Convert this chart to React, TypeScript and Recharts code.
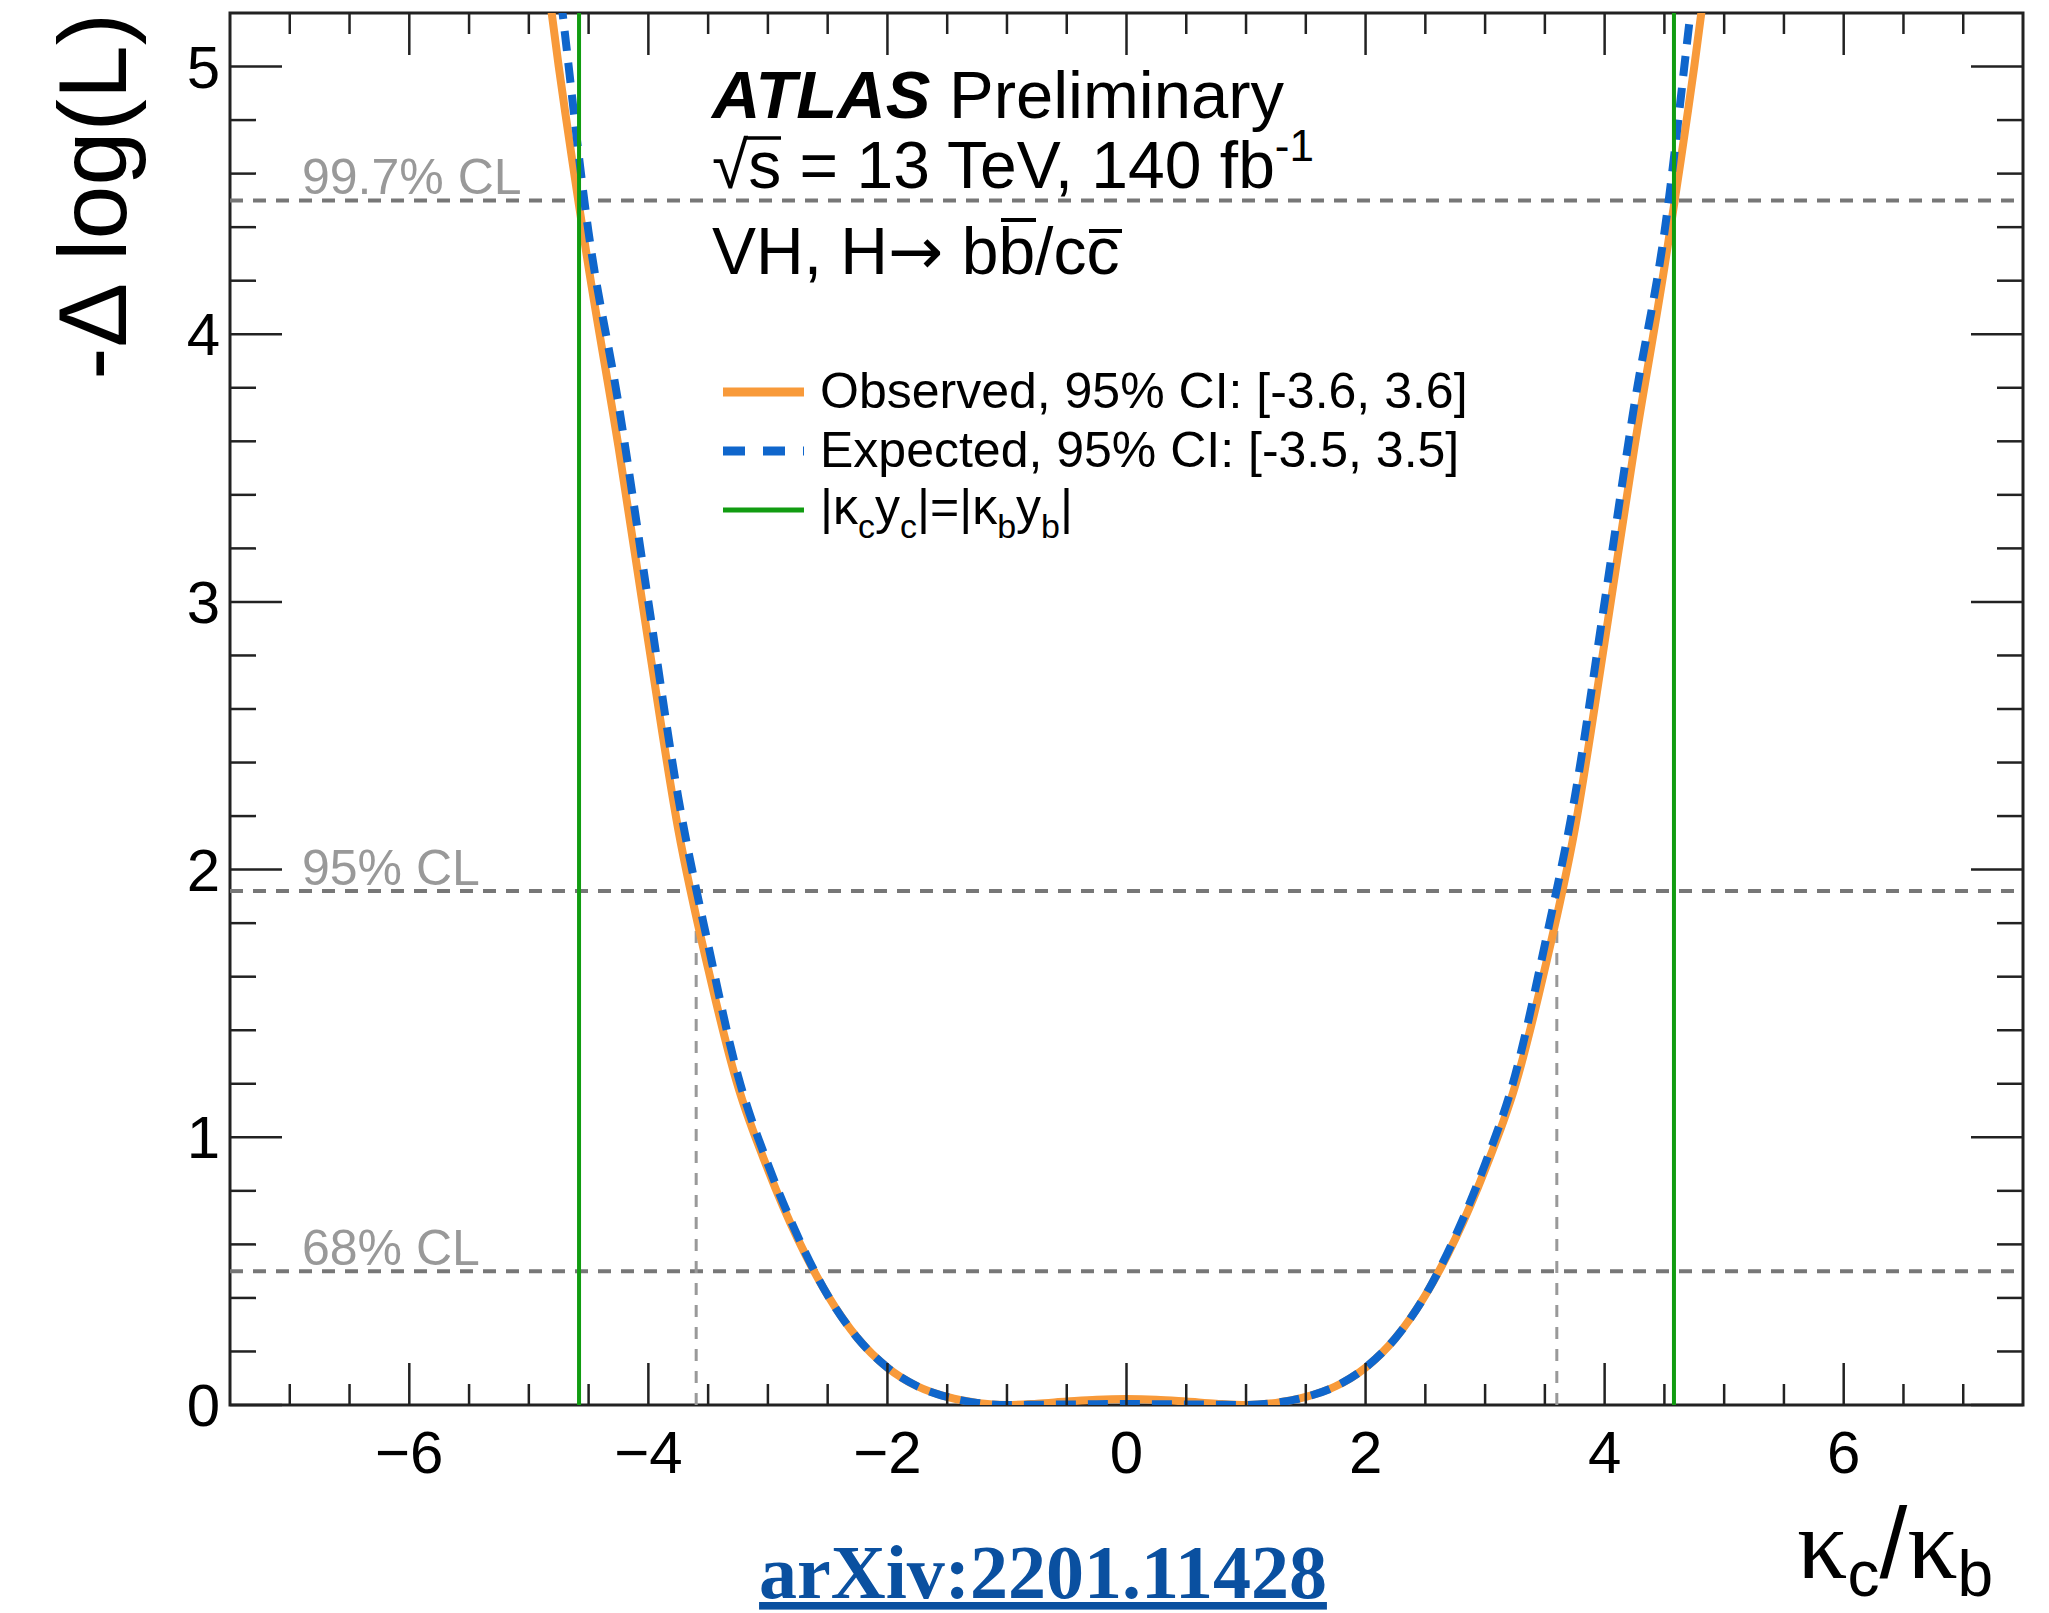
import {
    LineChart,
    Line,
    XAxis,
    YAxis,
    ReferenceLine,
    ReferenceArea,
    Legend,
} from 'recharts'

// kappa_c / kappa_b scan points
const kappaRatio = [
    -5, -4.75, -4.5, -4.25, -4, -3.75, -3.5, -3.25, -3, -2.75, -2.5, -2.25, -2, -1.75, -1.5, -1.25, -1, -0.75, -0.5, -0.25,
    0, 0.25, 0.5, 0.75, 1, 1.25, 1.5, 1.75, 2, 2.25, 2.5, 2.75, 3, 3.25, 3.5, 3.75, 4, 4.25, 4.5, 4.75, 5,
]
// -delta log(L), observed
const observedNll = [
    5.85, 5.0, 4.25, 3.58, 2.85, 2.15, 1.63, 1.19, 0.88, 0.62, 0.41, 0.25, 0.14, 0.07, 0.03, 0.008, 0.0, 0.005, 0.013, 0.02,
    0.022, 0.02, 0.013, 0.005, 0.0, 0.008, 0.03, 0.07, 0.14, 0.25, 0.41, 0.62, 0.88, 1.19, 1.63, 2.15, 2.85, 3.58, 4.25, 5.0, 5.85,
]
// -delta log(L), expected
const expectedNll = [
    6.2, 5.32, 4.38, 3.74, 3.0, 2.27, 1.72, 1.23, 0.9, 0.63, 0.41, 0.25, 0.14, 0.07, 0.03, 0.008, 0.0, 0.001, 0.002, 0.003,
    0.004, 0.003, 0.002, 0.001, 0.0, 0.008, 0.03, 0.07, 0.14, 0.25, 0.41, 0.63, 0.9, 1.23, 1.72, 2.27, 3.0, 3.74, 4.38, 5.32, 6.2,
]

const clLevels = [
    { value: 0.5, label: '68% CL' },
    { value: 1.92, label: '95% CL' },
    { value: 4.5, label: '99.7% CL' },
]
const observedInterval = [-3.6, 3.6]
const yukawaRatio = [-4.58, 4.58]

const xTicks = [
    -7, -6.5, -6, -5.5, -5, -4.5, -4, -3.5, -3, -2.5, -2, -1.5, -1, -0.5, 0, 0.5, 1, 1.5, 2, 2.5, 3, 3.5, 4, 4.5, 5, 5.5, 6, 6.5, 7,
]
const xMajorTicks = [-6, -4, -2, 0, 2, 4, 6]
const yTicks = [
    0, 0.2, 0.4, 0.6, 0.8, 1, 1.2, 1.4, 1.6, 1.8, 2, 2.2, 2.4, 2.6, 2.8, 3, 3.2, 3.4, 3.6, 3.8, 4, 4.2, 4.4, 4.6, 4.8, 5,
]
const yMajorTicks = [0, 1, 2, 3, 4, 5]

const legendItems = [
    { key: 'obs', color: '#f89a3a', dash: undefined, text: 'Observed, 95% CI: [-3.6, 3.6]' },
    { key: 'exp', color: '#0f66cc', dash: '22 18', text: 'Expected, 95% CI: [-3.5, 3.5]' },
    { key: 'yuk', color: '#119c11', dash: undefined, text: '' },
]

const data = kappaRatio.map((k, i) => ({ k, obs: observedNll[i], exp: expectedNll[i] }))

const W = 2049
const H = 1613
const PLOT_W = 1793
const PLOT_H = 1392
const SANS = '"Liberation Sans", Arial, Helvetica, sans-serif'
const SERIF = '"Liberation Serif", "Times New Roman", serif'
const INK = '#222'

const fmt = (v: number) => (v < 0 ? `\u2212${-v}` : `${v}`)

function XTick({ x, y, payload }: any) {
    const v = payload.value
    const major = xMajorTicks.includes(v)
    const len = major ? 42 : 21
    return (
        <g>
            <line x1={x} x2={x} y1={y} y2={y - len} stroke={INK} strokeWidth={2.5} />
            <line x1={x} x2={x} y1={y - PLOT_H} y2={y - PLOT_H + len} stroke={INK} strokeWidth={2.5} />
            {major && (
                <text x={x} y={y + 68} textAnchor="middle" fontSize={60} fill="#000" fontFamily={SANS}>
                    {fmt(v)}
                </text>
            )}
        </g>
    )
}

function YTick({ x, y, payload }: any) {
    const v = payload.value
    const major = yMajorTicks.includes(v)
    const len = major ? 52 : 26
    return (
        <g>
            <line x1={x} x2={x + len} y1={y} y2={y} stroke={INK} strokeWidth={2.5} />
            <line x1={x + PLOT_W} x2={x + PLOT_W - len} y1={y} y2={y} stroke={INK} strokeWidth={2.5} />
            {major && (
                <text x={x - 10} y={y + 21} textAnchor="end" fontSize={60} fill="#000" fontFamily={SANS}>
                    {fmt(v)}
                </text>
            )}
        </g>
    )
}

function CLLabel({ viewBox, text }: any) {
    const vb = viewBox ?? { x: 230, y: 0 }
    return (
        <text x={vb.x + 72} y={vb.y - 6} fill="#999" fontSize={50} fontFamily={SANS}>
            {text}
        </text>
    )
}

function YTitle({ viewBox }: any) {
    const vb = viewBox ?? { x: 0, y: 13 }
    return (
        <text
            transform={`translate(${vb.x + 126},${vb.y}) rotate(-90)`}
            textAnchor="end"
            fontSize={97}
            fill="#000"
            fontFamily={SANS}
        >
            -Δ log(L)
        </text>
    )
}

function XTitle({ viewBox }: any) {
    const vb = viewBox ?? { x: 230, y: 1405, width: PLOT_W }
    return (
        <text x={vb.x + vb.width - 226} y={vb.y + 173} fill="#000" fontSize={100} fontFamily={SANS}>
            <tspan fontFamily={SERIF}>κ</tspan>
            <tspan fontSize={64} dy={18}>c</tspan>
            <tspan dy={-18}>/</tspan>
            <tspan fontFamily={SERIF}>κ</tspan>
            <tspan fontSize={64} dy={18}>b</tspan>
        </text>
    )
}

const sub = { fontSize: 34, position: 'relative' as const, top: 14 }

function LegendBox() {
    return (
        <div style={{ fontFamily: SANS, fontSize: 50, color: '#000' }}>
            {legendItems.map((it) => (
                <div key={it.key} style={{ display: 'flex', alignItems: 'center', height: 59, lineHeight: '59px' }}>
                    <svg width={81} height={12} style={{ marginRight: 16 }}>
                        <line
                            x1={0}
                            x2={81}
                            y1={6}
                            y2={6}
                            stroke={it.color}
                            strokeWidth={it.key === 'yuk' ? 5 : 9}
                            strokeDasharray={it.dash}
                        />
                    </svg>
                    {it.key === 'yuk' ? (
                        <span style={{ whiteSpace: 'nowrap' }}>
                            |κ<span style={sub}>c</span>y<span style={sub}>c</span>|=|κ<span style={sub}>b</span>y
                            <span style={sub}>b</span>|
                        </span>
                    ) : (
                        <span style={{ whiteSpace: 'nowrap' }}>{it.text}</span>
                    )}
                </div>
            ))}
        </div>
    )
}

export default function App() {
    return (
        <div
            style={{
                position: 'absolute',
                left: 0,
                top: 0,
                width: W,
                height: H,
                background: '#fff',
                fontFamily: SANS,
            }}
        >
            <LineChart width={W} height={H} data={data} margin={{ top: 13, right: 26, bottom: 0, left: 0 }}>
                <XAxis
                    dataKey="k"
                    type="number"
                    domain={[-7.5, 7.5]}
                    allowDataOverflow
                    ticks={xTicks}
                    interval={0}
                    height={208}
                    tickSize={0}
                    tickMargin={0}
                    tickLine={false}
                    axisLine={false}
                    tick={<XTick />}
                    label={<XTitle />}
                />
                <YAxis
                    type="number"
                    domain={[0, 5.2]}
                    allowDataOverflow
                    ticks={yTicks}
                    interval={0}
                    width={230}
                    tickSize={0}
                    tickMargin={0}
                    tickLine={false}
                    axisLine={false}
                    tick={<YTick />}
                    label={<YTitle />}
                />
                <ReferenceArea x1={-7.5} x2={7.5} y1={0} y2={5.2} fill="none" stroke={INK} strokeWidth={3} />
                {clLevels.map((cl) => (
                    <ReferenceLine
                        key={cl.label}
                        y={cl.value}
                        stroke="#777"
                        strokeWidth={4}
                        strokeDasharray="13 10"
                        label={<CLLabel text={cl.label} />}
                    />
                ))}
                {observedInterval.map((v) => (
                    <ReferenceLine
                        key={`ci${v}`}
                        segment={[
                            { x: v, y: 0 },
                            { x: v, y: clLevels[1].value },
                        ]}
                        stroke="#999"
                        strokeWidth={3}
                        strokeDasharray="12 10"
                    />
                ))}
                <Line
                    dataKey="obs"
                    type="monotone"
                    stroke="#f89a3a"
                    strokeWidth={8}
                    dot={false}
                    isAnimationActive={false}
                />
                <Line
                    dataKey="exp"
                    type="monotone"
                    stroke="#0f66cc"
                    strokeWidth={8}
                    strokeDasharray="20 12"
                    dot={false}
                    isAnimationActive={false}
                />
                {yukawaRatio.map((v) => (
                    <ReferenceLine key={`yuk${v}`} x={v} stroke="#119c11" strokeWidth={4} />
                ))}
                <Legend
                    layout="vertical"
                    align="center"
                    verticalAlign="middle"
                    wrapperStyle={{ left: 723, top: 362, width: 'auto' }}
                    content={() => <LegendBox />}
                />
            </LineChart>
            <svg
                width={W}
                height={H}
                style={{ position: 'absolute', left: 0, top: 0, pointerEvents: 'none' }}
                fontFamily={SANS}
            >
                <text x={712} y={118} fontSize={67} fill="#000">
                    <tspan fontWeight="bold" fontStyle="italic">
                        ATLAS
                    </tspan>
                    <tspan> Preliminary</tspan>
                </text>
                <text x={712} y={188} fontSize={66} fill="#000">
                    √s = 13 TeV, 140 fb
                    <tspan fontSize={44} dy={-27}>
                        -1
                    </tspan>
                </text>
                {/* bar of the square root */}
                <line x1={745} x2={781} y1={138} y2={138} stroke="#000" strokeWidth={3.5} />
                <text x={712} y={274} fontSize={66} fill="#000">
                    VH, H<tspan fontFamily='"DejaVu Sans", sans-serif'>→</tspan> bb/cc
                </text>
                {/* anti-quark bars */}
                <line x1={1001} x2={1036} y1={220} y2={220} stroke="#000" strokeWidth={4} />
                <line x1={1089} x2={1122} y1={231} y2={231} stroke="#000" strokeWidth={4} />
                <text
                    x={1043}
                    y={1598}
                    textAnchor="middle"
                    fontSize={76}
                    fontWeight="bold"
                    fontFamily={SERIF}
                    fill="#0a50a0"
                    textDecoration="underline"
                >
                    arXiv:2201.11428
                </text>
            </svg>
        </div>
    )
}
